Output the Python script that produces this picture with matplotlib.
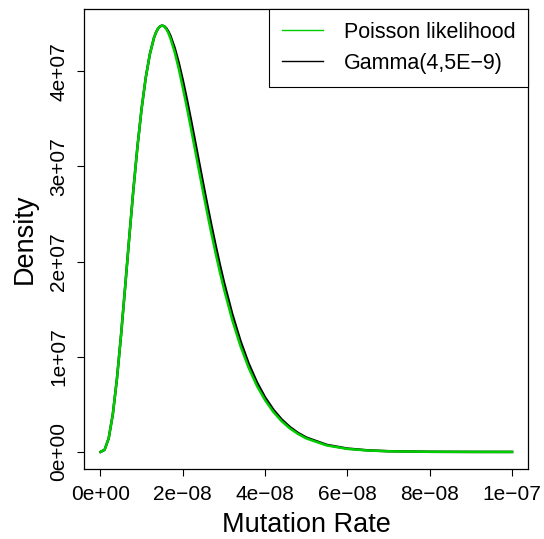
import matplotlib
matplotlib.use("Agg")
import matplotlib.pyplot as plt
from matplotlib.lines import Line2D
import numpy as np

plt.rcParams['font.family'] = ['Liberation Sans', 'DejaVu Sans']

# mutation rate (units of 1e-9) and densities (units of 1e7)
rate = [0, 1, 2, 3, 4, 5, 6, 7, 8, 9, 10, 11, 12, 13, 13.5, 14, 14.5, 15, 15.5,
        16, 16.5, 17, 18, 19, 20, 21, 22, 23, 24, 25, 26, 27, 28, 29, 30, 32,
        34, 36, 38, 40, 42, 44, 46, 48, 50, 55, 60, 65, 70, 80, 90, 100]
gamma_dens = [0, 0.0218, 0.1430, 0.3951, 0.7669, 1.2263, 1.7349, 2.2556, 2.7566,
              3.2134, 3.6089, 3.9328, 4.1803, 4.3514, 4.4094, 4.4497, 4.4732,
              4.4808, 4.4735, 4.4523, 4.4182, 4.3723, 4.2494, 4.0918, 3.9073,
              3.7034, 3.4860, 3.2614, 3.0338, 2.8075, 2.5856, 2.3707, 2.1647,
              1.9691, 1.7847, 1.4519, 1.1674, 0.9289, 0.7323, 0.5725, 0.4443,
              0.3424, 0.2623, 0.1997, 0.1513, 0.0741, 0.0354, 0.0166, 0.0076,
              0.0015, 0.0003, 0.00005]
poisson_dens = [0, 0.0218, 0.1430, 0.3951, 0.7669, 1.2263, 1.7349, 2.2556, 2.7566,
                3.2134, 3.6089, 3.9328, 4.1803, 4.3514, 4.4094, 4.4497, 4.4732,
                4.4808, 4.472, 4.444, 4.402, 4.347, 4.207, 4.032, 3.830, 3.619,
                3.398, 3.171, 2.943, 2.718, 2.499, 2.287, 2.085, 1.893, 1.714,
                1.390, 1.115, 0.885, 0.696, 0.544, 0.421, 0.324, 0.248, 0.189,
                0.142, 0.068, 0.032, 0.015, 0.0068, 0.0013, 0.00025, 0.00004]

xticks = [0, 2e-08, 4e-08, 6e-08, 8e-08, 1e-07]
xticklabels = ['0e+00', '2e\u221208', '4e\u221208', '6e\u221208', '8e\u221208', '1e\u221207']
yticks = [0, 1e7, 2e7, 3e7, 4e7]
yticklabels = ['0e+00', '1e+07', '2e+07', '3e+07', '4e+07']

x = np.array(rate) * 1e-9
g = np.array(gamma_dens) * 1e7
p = np.array(poisson_dens) * 1e7
green = '#00cd00'

fig = plt.figure(figsize=(5.44, 5.39), dpi=100)
ax = fig.add_axes([0.1544, 0.1299, 0.8171, 0.8543])

ax.plot(x, g, color='black', lw=1.8)
ax.plot(x, p, color=green, lw=1.8)

ax.set_xlim(-0.04e-7, 1.04e-7)
ymax = max(g.max(), p.max())
ax.set_ylim(-0.04 * ymax, 1.04 * ymax)

ax.set_xticks(xticks)
ax.set_xticklabels(xticklabels)
ax.set_yticks(yticks)
ax.set_yticklabels(yticklabels, rotation=90, va='center')
ax.tick_params(axis='both', labelsize=15, length=5, width=0.8, pad=6.5)

ax.set_xlabel('Mutation Rate', fontsize=19.5, labelpad=6)
ax.set_ylabel('Density', fontsize=19.5, labelpad=8)

for s in ax.spines.values():
    s.set_linewidth(0.9)

handles = [Line2D([], [], color=green, lw=1.0), Line2D([], [], color='black', lw=1.0)]
leg = ax.legend(handles, ['Poisson likelihood', 'Gamma(4,5E\u22129)'], loc='upper right',
                bbox_to_anchor=(1, 1), borderaxespad=0, fontsize=15.5, fancybox=False,
                framealpha=1, edgecolor='black', handlelength=1.9, handletextpad=0.95,
                borderpad=0.62, labelspacing=0.45)
leg.get_frame().set_linewidth(0.8)

fig.savefig('out.png', dpi=100)
